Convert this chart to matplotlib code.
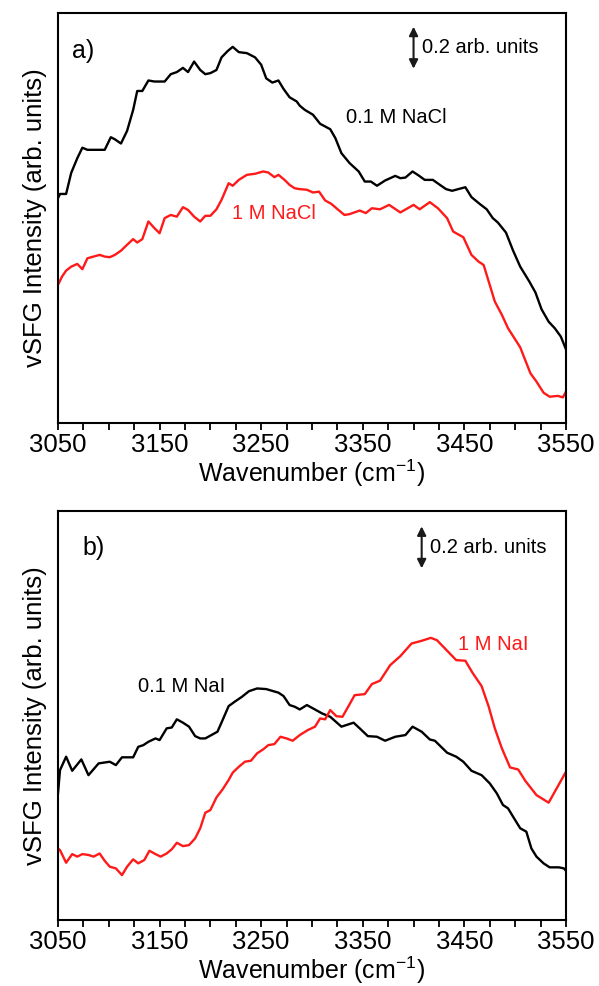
import numpy as np
import matplotlib
matplotlib.use("Agg")
import matplotlib.pyplot as plt

plt.rcParams['font.family'] = ['Liberation Sans', 'DejaVu Sans']
plt.rcParams['mathtext.fontset'] = 'custom'
plt.rcParams['mathtext.rm'] = 'Liberation Sans'
plt.rcParams['mathtext.default'] = 'regular'

# a) NaCl spectra
wn_nacl_01 = [3050, 3052, 3058, 3063, 3069, 3074, 3079, 3096, 3102, 3106, 3112, 3118, 3124, 3128,
              3133, 3139, 3145, 3155, 3161, 3167, 3173, 3178, 3184, 3190, 3195, 3200, 3206, 3211,
              3217, 3222, 3228, 3236, 3244, 3250, 3255, 3261, 3267, 3272, 3278, 3285, 3288, 3293,
              3301, 3308, 3318, 3323, 3329, 3337, 3346, 3352, 3358, 3364, 3372, 3382, 3387, 3392,
              3399, 3405, 3411, 3419, 3426, 3432, 3438, 3444, 3451, 3457, 3465, 3472, 3478, 3483,
              3491, 3498, 3505, 3514, 3520, 3526, 3533, 3539, 3545, 3550]
int_nacl_01 = [1.07, 1.09, 1.09, 1.19, 1.26, 1.31, 1.30, 1.30, 1.36, 1.35, 1.33, 1.39, 1.49, 1.58,
               1.58, 1.63, 1.625, 1.625, 1.66, 1.67, 1.69, 1.67, 1.72, 1.68, 1.66, 1.665, 1.68, 1.74,
               1.77, 1.79, 1.765, 1.76, 1.74, 1.705, 1.64, 1.62, 1.63, 1.59, 1.55, 1.53, 1.51, 1.49,
               1.467, 1.424, 1.398, 1.356, 1.284, 1.237, 1.197, 1.149, 1.149, 1.129, 1.154, 1.176, 1.165, 1.168,
               1.197, 1.178, 1.157, 1.157, 1.133, 1.113, 1.105, 1.113, 1.122, 1.075, 1.043, 1.017, 0.975, 0.954,
               0.906, 0.820, 0.744, 0.673, 0.621, 0.541, 0.482, 0.451, 0.411, 0.351]

wn_nacl_1 = [3050, 3054, 3058, 3063, 3069, 3074, 3079, 3085, 3091, 3096, 3101, 3106, 3112, 3118,
             3124, 3128, 3133, 3139, 3145, 3150, 3155, 3161, 3167, 3173, 3178, 3184, 3190, 3195,
             3200, 3206, 3211, 3218, 3222, 3228, 3236, 3244, 3252, 3257, 3263, 3267, 3273, 3278,
             3283, 3288, 3295, 3301, 3307, 3313, 3319, 3326, 3332, 3337, 3347, 3353, 3359, 3367,
             3376, 3387, 3400, 3406, 3416, 3424, 3433, 3439, 3449, 3457, 3464, 3469, 3480, 3487,
             3493, 3505, 3515, 3521, 3528, 3534, 3542, 3547, 3550]
int_nacl_1 = [0.657, 0.697, 0.725, 0.744, 0.757, 0.732, 0.784, 0.792, 0.80, 0.792, 0.789, 0.80, 0.82, 0.848,
              0.875, 0.859, 0.875, 0.959, 0.927, 0.903, 0.975, 0.99, 0.982, 1.027, 1.014, 0.982, 0.959, 0.986,
              0.986, 1.017, 1.062, 1.141, 1.129, 1.157, 1.181, 1.186, 1.197, 1.192, 1.17, 1.181, 1.157, 1.133,
              1.117, 1.113, 1.11, 1.097, 1.101, 1.059, 1.043, 1.014, 0.99, 0.994, 1.011, 0.999, 1.022, 1.017,
              1.038, 1.002, 1.038, 1.017, 1.051, 1.022, 0.975, 0.911, 0.884, 0.80, 0.768, 0.752, 0.578, 0.514,
              0.451, 0.36, 0.237, 0.197, 0.144, 0.125, 0.129, 0.122, 0.149]

# b) NaI spectra
wn_nai_01 = [3050, 3052, 3058, 3064, 3073, 3080, 3090, 3101, 3107, 3113, 3124, 3129, 3134, 3139,
             3146, 3150, 3157, 3162, 3167, 3173, 3179, 3185, 3190, 3195, 3201, 3207, 3212, 3218,
             3224, 3231, 3238, 3246, 3255, 3262, 3267, 3272, 3278, 3283, 3288, 3295, 3301, 3310,
             3318, 3329, 3341, 3347, 3355, 3364, 3372, 3382, 3392, 3399, 3408, 3416, 3421, 3433,
             3442, 3449, 3457, 3467, 3475, 3482, 3488, 3493, 3498, 3505, 3511, 3516, 3521, 3528,
             3534, 3543, 3548, 3550]
int_nai_01 = [0.603, 0.714, 0.778, 0.711, 0.765, 0.69, 0.746, 0.754, 0.738, 0.775, 0.775, 0.825, 0.833, 0.849,
              0.865, 0.857, 0.913, 0.917, 0.956, 0.94, 0.921, 0.876, 0.865, 0.865, 0.881, 0.897, 0.952, 1.019,
              1.04, 1.063, 1.09, 1.103, 1.10, 1.09, 1.083, 1.067, 1.024, 1.016, 1.003, 1.024, 1.008, 0.984,
              0.968, 0.921, 0.94, 0.913, 0.876, 0.873, 0.854, 0.873, 0.881, 0.921, 0.897, 0.86, 0.854, 0.797,
              0.778, 0.754, 0.711, 0.69, 0.651, 0.603, 0.548, 0.532, 0.492, 0.437, 0.421, 0.341, 0.302, 0.27,
              0.251, 0.251, 0.246, 0.235]

wn_nai_1 = [3050, 3052, 3058, 3064, 3069, 3074, 3080, 3085, 3091, 3096, 3101, 3107, 3113, 3118,
            3124, 3129, 3135, 3140, 3146, 3151, 3157, 3162, 3167, 3173, 3179, 3185, 3190, 3195,
            3200, 3206, 3212, 3218, 3222, 3228, 3234, 3240, 3246, 3252, 3257, 3263, 3269, 3275,
            3281, 3288, 3296, 3303, 3308, 3313, 3318, 3324, 3330, 3336, 3342, 3352, 3359, 3367,
            3377, 3387, 3398, 3408, 3417, 3423, 3433, 3442, 3451, 3458, 3467, 3474, 3480, 3487,
            3495, 3503, 3510, 3521, 3533, 3550]
int_nai_1 = [0.341, 0.333, 0.273, 0.314, 0.302, 0.314, 0.31, 0.302, 0.317, 0.282, 0.254, 0.246, 0.214, 0.254,
             0.289, 0.27, 0.286, 0.33, 0.314, 0.302, 0.317, 0.337, 0.368, 0.352, 0.357, 0.389, 0.437, 0.511,
             0.524, 0.584, 0.622, 0.667, 0.702, 0.73, 0.754, 0.759, 0.794, 0.813, 0.833, 0.838, 0.873, 0.865,
             0.854, 0.881, 0.905, 0.921, 0.96, 0.956, 1.0, 0.971, 0.968, 1.019, 1.071, 1.076, 1.124, 1.14,
             1.214, 1.257, 1.317, 1.33, 1.344, 1.333, 1.283, 1.238, 1.235, 1.178, 1.114, 1.016, 0.913, 0.817,
             0.727, 0.717, 0.663, 0.595, 0.559, 0.706]

xticks = [3050, 3150, 3250, 3350, 3450, 3550]
red = '#ff1a1a'

fig = plt.figure(figsize=(5.99, 9.86), dpi=100)
ax1 = fig.add_axes([0.0968, 0.571, 0.848, 0.416])
ax2 = fig.add_axes([0.0968, 0.0669, 0.848, 0.4148])


def style_ax(ax, ytop):
    ax.set_xlim(3050, 3550)
    ax.set_ylim(0, ytop)
    ax.set_xticks(xticks)
    ax.set_xticks(np.arange(3050, 3551, 25), minor=True)
    ax.set_yticks([])
    ax.tick_params(axis='x', which='both', direction='out', length=5, width=1.3,
                   labelsize=18.5, pad=2.5)
    for s in ax.spines.values():
        s.set_linewidth(1.5)
    ax.set_xlabel('Wavenumber (cm$^{ -1}$)', fontsize=18, labelpad=0)
    ax.set_ylabel('vSFG Intensity (arb. units)', fontsize=18.5, labelpad=8)


def scale_bar(ax, x, y0, y1):
    ax.annotate('', xy=(x, y1), xytext=(x, y0),
                arrowprops=dict(arrowstyle='<|-|>', color='#1a1a1a', lw=1.5,
                                mutation_scale=13, shrinkA=0, shrinkB=0))
    ax.text(x + 8, (y0 + y1) / 2, '0.2 arb. units', fontsize=14.5, va='center')


# panel a
ax1.plot(wn_nacl_01, int_nacl_01, color='black', lw=1.7)
ax1.plot(wn_nacl_1, int_nacl_1, color=red, lw=1.7)
style_ax(ax1, 1.952)
ax1.text(3064, 1.77, 'a)', fontsize=18, va='center')
ax1.text(3334, 1.452, '0.1 M NaCl', fontsize=14.5, va='center')
ax1.text(3221, 0.995, '1 M NaCl', fontsize=14.5, va='center', color=red)
scale_bar(ax1, 3400, 1.686, 1.886)

# panel b
ax2.plot(wn_nai_01, int_nai_01, color='black', lw=1.7)
ax2.plot(wn_nai_1, int_nai_1, color=red, lw=1.7)
style_ax(ax2, 1.948)
ax2.text(3074, 1.77, 'b)', fontsize=18, va='center')
ax2.text(3129, 1.114, '0.1 M NaI', fontsize=14.5, va='center')
ax2.text(3444, 1.314, '1 M NaI', fontsize=14.5, va='center', color=red)
scale_bar(ax2, 3408, 1.675, 1.875)

fig.savefig('out.png', dpi=100)
